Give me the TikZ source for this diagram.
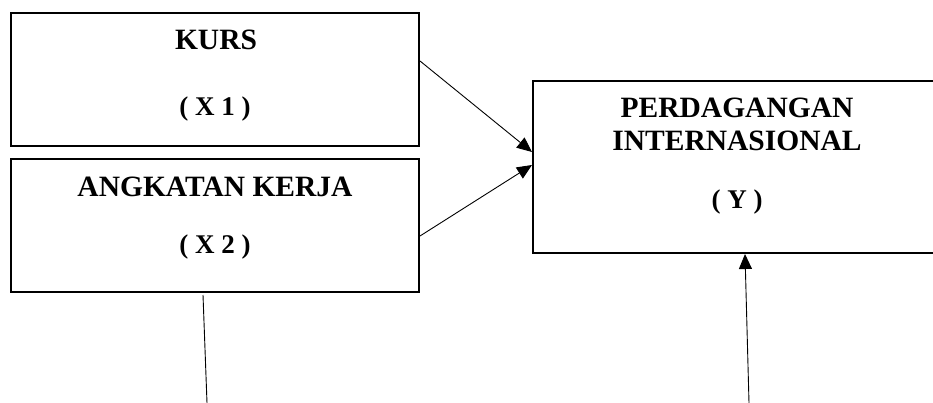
\documentclass[tikz,border=0pt]{standalone}
\usepackage{fontspec}
\setmainfont{Liberation Serif}
\usetikzlibrary{arrows.meta}

\tikzset{
    varbox/.style={draw, line width=2pt, inner sep=0pt, minimum width=408pt},
    title/.style={anchor=base, font=\fontsize{29.5}{34}\selectfont\bfseries},
    symb/.style={anchor=base, font=\fontsize{27}{31}\selectfont\bfseries},
    link/.style={line width=0.9pt, -{Triangle[length=15pt,width=13pt]}},
    plain/.style={line width=0.9pt}
}

\begin{document}
\begin{tikzpicture}[x=1pt, y=-1pt]
    \clip (0,0) rectangle (933,403);

    % Boxes
    \node[varbox, minimum height=133pt] (kurs) at (215,79.5) {};
    \node[varbox, minimum height=133pt] (kerja) at (215,225.5) {};
    \node[varbox, minimum height=172pt] (dagang) at (737,167) {};

    % Box texts
    \node[title] (kursname) at (216,50) {KURS};
    \node[symb] (kurssym) at (215,116) {( X 1 )};
    \node[title] (kerjaname) at (215,197) {ANGKATAN KERJA};
    \node[symb] (kerjasym) at (215,253) {( X 2 )};
    \node[title] (dagangname) at (737,118) {PERDAGANGAN};
    \node[title] (dagangname2) at (737,151) {INTERNASIONAL};
    \node[symb] (dagangsym) at (737,209) {( Y )};

    % Free ends at the bottom
    \coordinate (kerjaend) at (207,403);
    \coordinate (dagangstart) at (749,403);

    % Connectors
    \draw[link] ([yshift=18.5pt]kurs.east) -- ([yshift=15pt]dagang.west);
    \draw[link] ([yshift=-10.5pt]kerja.east) -- ([yshift=2pt]dagang.west);
    \draw[plain] ([xshift=-12pt,yshift=-2pt]kerja.south) -- (kerjaend);
    \draw[link] (dagangstart) -- ([xshift=8pt]dagang.south);

\end{tikzpicture}
\end{document}
